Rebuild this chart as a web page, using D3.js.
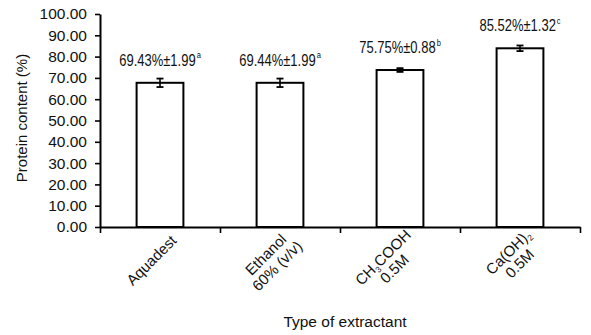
<!DOCTYPE html>
<html>
<head>
<meta charset="utf-8">
<script src="https://cdn.jsdelivr.net/npm/d3@7"></script>
<style>
  body { margin: 0; background: #fff; }
  svg { font-family: Arial, "Liberation Sans", Helvetica, sans-serif; }
</style>
</head>
<body>
<div id="chart"></div>
<script>
// Data
const categories = ["Aquadest", "Ethanol", "CH3COOH", "Ca(OH)2"];
// category label lines, "_{x}" marks a subscript
const categoryLines = [
  ["Aquadest"],
  ["Ethanol", "60% (v/v)"],
  ["CH_{3}COOH", "0.5M"],
  ["Ca(OH)_{2}", "0.5M"]
];
const proteinMeans = [67.7, 67.7, 73.7, 83.9];
const proteinSD = [1.99, 1.99, 0.88, 1.32];
const labelValues = ["69.43%±1.99", "69.44%±1.99", "75.75%±0.88", "85.52%±1.32"];
const labelLetters = ["a", "a", "b", "c"];
const yTicks = [0, 10, 20, 30, 40, 50, 60, 70, 80, 90, 100];

const config = {
  width: 591,
  height: 335,
  margin: { top: 14, right: 11, bottom: 108, left: 100 },
  labelStretch: 1.25   // value labels are drawn tall and narrow
};

const innerW = 480;
const innerH = config.height - config.margin.top - config.margin.bottom;

const svg = d3.select('#chart').append('svg')
  .attr('width', config.width)
  .attr('height', config.height);

const chart = svg.append('g')
  .attr('transform', `translate(${config.margin.left},${config.margin.top})`);

// Scales
const x = d3.scaleBand().domain(categories).range([0, innerW]).padding(0);
const xEdge = d3.scaleLinear().domain([0, categories.length]).range([0, innerW]);
const y = d3.scaleLinear().domain([0, 100]).range([innerH, 0]);
const barW = x.bandwidth() * 0.39;

// Y axis
const yAxisG = chart.append('g')
  .call(d3.axisLeft(y).tickValues(yTicks).tickFormat(d3.format('.2f'))
    .tickSize(5).tickSizeOuter(0).tickPadding(8));
yAxisG.attr('font-family', null).attr('font-size', 15.5);
yAxisG.select('.domain').attr('stroke-width', 2);
yAxisG.selectAll('.tick line').attr('stroke-width', 1.6);
yAxisG.selectAll('.tick text').attr('fill', '#111');

// X axis: ticks sit between categories
const xAxisG = chart.append('g')
  .attr('transform', `translate(0,${innerH})`)
  .call(d3.axisBottom(xEdge).tickValues(d3.range(categories.length + 1))
    .tickFormat('').tickSize(6).tickSizeOuter(0));
xAxisG.select('.domain').attr('stroke-width', 2);
xAxisG.selectAll('.tick line').attr('stroke-width', 1.6);

// Bars
chart.selectAll('.bar')
  .data(categories)
  .join('rect')
  .attr('class', 'bar')
  .attr('x', d => x(d) + (x.bandwidth() - barW) / 2)
  .attr('y', (d, i) => y(proteinMeans[i]))
  .attr('width', barW)
  .attr('height', (d, i) => innerH - y(proteinMeans[i]))
  .attr('fill', '#fff')
  .attr('stroke', '#000')
  .attr('stroke-width', 2);

// Error bars
const err = chart.selectAll('.err')
  .data(categories)
  .join('g')
  .attr('class', 'err')
  .attr('transform', d => `translate(${x(d) + x.bandwidth() / 2},0)`)
  .attr('stroke', '#000');
err.append('line')
  .attr('y1', (d, i) => y(proteinMeans[i] - proteinSD[i]))
  .attr('y2', (d, i) => y(proteinMeans[i] + proteinSD[i]))
  .attr('stroke-width', 1.6);
err.append('line')
  .attr('x1', -3.5).attr('x2', 3.5)
  .attr('y1', (d, i) => y(proteinMeans[i] + proteinSD[i]))
  .attr('y2', (d, i) => y(proteinMeans[i] + proteinSD[i]))
  .attr('stroke-width', 1.8);
err.append('line')
  .attr('x1', -3.5).attr('x2', 3.5)
  .attr('y1', (d, i) => y(proteinMeans[i] - proteinSD[i]))
  .attr('y2', (d, i) => y(proteinMeans[i] - proteinSD[i]))
  .attr('stroke-width', 1.8);

// Value labels above bars
const lab = chart.selectAll('.val')
  .data(categories)
  .join('text')
  .attr('class', 'val')
  .attr('transform', (d, i) =>
    `translate(${x(d) + x.bandwidth() / 2},${y(proteinMeans[i]) - 17}) scale(1,${config.labelStretch})`)
  .attr('text-anchor', 'middle')
  .attr('font-size', 13)
  .attr('fill', '#111');
lab.append('tspan').text((d, i) => labelValues[i]);
lab.append('tspan')
  .attr('font-size', 7.5)
  .attr('dy', -6)
  .attr('dx', 1)
  .text((d, i) => labelLetters[i]);

// Category labels, rotated, lines centred on each other
const lineH = 16;
function addRich(textSel, str) {
  const parts = str.split(/(_\{[^}]*\})/).filter(s => s.length);
  let sub = false;
  parts.forEach(p => {
    if (p.startsWith('_{')) {
      textSel.append('tspan').attr('font-size', 8.5).attr('dy', 3).text(p.slice(2, -1));
      sub = true;
    } else {
      const t = textSel.append('tspan').text(p);
      if (sub) { t.attr('dy', -3); sub = false; }
    }
  });
}

categories.forEach((c, i) => {
  const lines = categoryLines[i];
  const g = chart.append('g')
    .attr('transform',
      `translate(${x(c) + x.bandwidth() / 2 + 14},${innerH + 11}) rotate(-45)`)
    .attr('font-size', 15)
    .attr('fill', '#111');
  const texts = lines.map((ln, j) => {
    const t = g.append('text')
      .attr('y', (j - (lines.length - 1) / 2) * lineH + 5)
      .attr('text-anchor', 'middle');
    addRich(t, ln);
    return t;
  });
  const maxW = d3.max(texts, t => t.node().getComputedTextLength());
  texts.forEach(t => t.attr('x', -maxW / 2));
});

// Axis titles
svg.append('text')
  .attr('transform', `translate(27,118) rotate(-90)`)
  .attr('text-anchor', 'middle')
  .attr('font-size', 15)
  .attr('fill', '#111')
  .text('Protein content (%)');

svg.append('text')
  .attr('x', config.margin.left + innerW / 2 + 5)
  .attr('y', 327)
  .attr('text-anchor', 'middle')
  .attr('font-size', 15.5)
  .attr('fill', '#111')
  .text('Type of extractant');
</script>
</body>
</html>
